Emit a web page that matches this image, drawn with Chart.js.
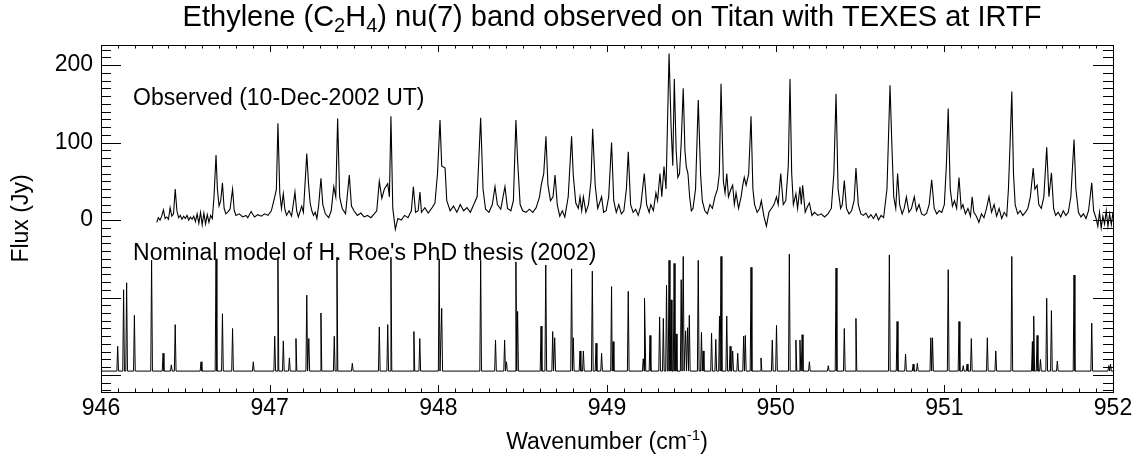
<!DOCTYPE html>
<html>
<head>
<meta charset="utf-8">
<script src="https://cdn.jsdelivr.net/npm/chart.js@4.4.1/dist/chart.umd.min.js"></script>
<style>
  html, body { margin: 0; padding: 0; background: #fff; }
</style>
</head>
<body>
<canvas id="spectrum" width="1138" height="476"></canvas>
<script>
// tick labels
const xTickLabels = [946, 947, 948, 949, 950, 951, 952];
const yTickLabels = [0, 100, 200];

// observed spectrum, [wavenumber (cm-1), flux (Jy)]
const observed = [
  [946.33,-3],[946.34,3],[946.35,0],[946.36,5],[946.37,13],[946.38,2],[946.39,4],[946.40,1],
  [946.41,16],[946.42,5],[946.43,8],[946.44,40],[946.45,12],[946.46,3],[946.47,6],[946.48,1],
  [946.49,5],[946.50,2],[946.51,6],[946.52,0],[946.53,4],[946.54,1],[946.55,5],[946.56,-2],
  [946.57,8],[946.58,-4],[946.59,10],[946.60,-6],[946.61,9],[946.62,-5],[946.63,7],[946.64,-3],
  [946.65,6],[946.66,2],[946.67,30],[946.682,84],[946.69,40],[946.70,18],[946.71,25],[946.72,48],
  [946.73,15],[946.74,8],[946.75,10],[946.765,14],[946.78,40],[946.79,12],[946.80,6],[946.82,8],
  [946.84,4],[946.86,6],[946.87,3],[946.89,11],[946.91,4],[946.93,7],[946.95,5],[946.97,8],
  [946.99,6],[947.01,12],[947.03,30],[947.04,40],[947.049,125],[947.06,35],[947.07,15],[947.081,34],
  [947.09,14],[947.10,6],[947.115,12],[947.13,5],[947.15,36],[947.16,12],[947.17,4],[947.19,18],
  [947.20,10],[947.22,86],[947.23,48],[947.24,22],[947.25,12],[947.26,6],[947.27,10],[947.28,2],
  [947.29,18],[947.304,54],[947.315,20],[947.33,8],[947.35,3],[947.365,12],[947.38,43],[947.392,30],
  [947.403,131],[947.415,30],[947.43,15],[947.45,8],[947.472,58],[947.485,18],[947.50,12],[947.52,6],
  [947.54,9],[947.56,4],[947.58,6],[947.60,3],[947.62,8],[947.635,12],[947.65,50],[947.665,28],
  [947.68,40],[947.70,47],[947.71,30],[947.719,134],[947.73,15],[947.745,-12],[947.76,2],[947.78,0],
  [947.80,6],[947.82,3],[947.84,12],[947.852,43],[947.865,10],[947.88,12],[947.891,36],[947.90,10],
  [947.92,16],[947.94,9],[947.96,15],[947.98,22],[947.995,60],[948.01,129],[948.02,70],[948.04,67],
  [948.05,25],[948.07,12],[948.09,18],[948.11,10],[948.13,20],[948.15,12],[948.17,16],[948.19,10],
  [948.21,20],[948.23,30],[948.251,132],[948.265,40],[948.28,14],[948.30,10],[948.32,20],[948.336,43],
  [948.35,20],[948.37,14],[948.395,43],[948.41,15],[948.43,12],[948.445,25],[948.46,129],[948.47,77],
  [948.485,20],[948.50,12],[948.52,10],[948.54,14],[948.56,10],[948.58,16],[948.60,30],[948.61,45],
  [948.625,60],[948.638,108],[948.65,45],[948.665,25],[948.68,30],[948.692,58],[948.705,20],[948.72,5],
  [948.735,12],[948.75,4],[948.77,30],[948.79,108],[948.80,58],[948.815,22],[948.83,15],[948.84,30],
  [948.85,12],[948.86,30],[948.875,10],[948.89,20],[948.905,50],[948.915,118],[948.93,45],[948.945,15],
  [948.968,30],[948.98,10],[948.995,12],[949.01,30],[949.027,100],[949.04,25],[949.055,10],[949.07,20],
  [949.085,8],[949.10,12],[949.115,40],[949.126,88],[949.14,20],[949.155,10],[949.17,14],[949.185,6],
  [949.20,18],[949.221,60],[949.235,20],[949.25,10],[949.26,20],[949.275,12],[949.29,35],[949.30,25],
  [949.314,60],[949.325,30],[949.338,69],[949.35,40],[949.368,215],[949.38,120],[949.39,70],[949.399,182],
  [949.41,90],[949.42,55],[949.43,60],[949.44,100],[949.452,170],[949.462,90],[949.47,69],[949.48,60],
  [949.49,30],[949.50,12],[949.51,15],[949.525,40],[949.541,155],[949.555,58],[949.565,25],[949.58,12],
  [949.595,8],[949.61,20],[949.625,15],[949.64,30],[949.655,40],[949.666,60],[949.676,176],[949.69,50],
  [949.70,35],[949.71,60],[949.72,30],[949.735,40],[949.745,45],[949.755,20],[949.765,35],[949.78,15],
  [949.795,30],[949.805,45],[949.814,55],[949.825,45],[949.84,60],[949.854,134],[949.865,40],[949.875,20],
  [949.89,10],[949.905,15],[949.915,25],[949.93,5],[949.945,-8],[949.96,10],[949.975,15],[949.99,20],
  [950.005,30],[950.015,20],[950.03,60],[950.045,20],[950.06,25],[950.075,70],[950.085,182],[950.095,60],
  [950.105,20],[950.12,34],[950.13,15],[950.144,43],[950.152,20],[950.16,45],[950.175,10],[950.19,18],
  [950.20,22],[950.215,6],[950.23,10],[950.25,6],[950.27,8],[950.29,4],[950.31,8],[950.33,15],
  [950.345,60],[950.358,163],[950.37,40],[950.385,15],[950.395,20],[950.407,51],[950.42,15],[950.435,8],
  [950.45,12],[950.465,25],[950.476,67],[950.49,20],[950.505,8],[950.52,6],[950.535,9],[950.55,3],
  [950.565,7],[950.58,2],[950.595,8],[950.61,0],[950.625,6],[950.64,3],[950.66,40],[950.678,174],
  [950.69,90],[950.70,30],[950.712,15],[950.723,60],[950.735,20],[950.75,8],[950.762,15],[950.775,30],
  [950.79,10],[950.805,15],[950.822,30],[950.835,12],[950.85,20],[950.865,8],[950.88,6],[950.895,9],
  [950.91,20],[950.925,52],[950.94,15],[950.955,8],[950.97,12],[950.985,10],[951.00,20],[951.012,70],
  [951.023,144],[951.035,40],[951.048,18],[951.06,25],[951.073,15],[951.087,55],[951.10,15],[951.11,20],
  [951.125,8],[951.14,15],[951.155,5],[951.165,30],[951.175,10],[951.19,5],[951.205,-3],[951.22,8],
  [951.235,3],[951.25,15],[951.265,30],[951.28,10],[951.295,20],[951.31,5],[951.325,15],[951.34,2],
  [951.355,10],[951.37,5],[951.38,40],[951.39,100],[951.40,166],[951.41,60],[951.42,20],[951.435,8],
  [951.45,12],[951.465,6],[951.48,10],[951.495,15],[951.51,30],[951.527,67],[951.537,40],[951.55,45],
  [951.56,20],[951.575,15],[951.59,30],[951.607,94],[951.62,30],[951.635,61],[951.648,15],[951.66,6],
  [951.675,10],[951.69,4],[951.705,12],[951.72,6],[951.735,10],[951.75,30],[951.769,104],[951.78,40],
  [951.795,10],[951.81,4],[951.825,8],[951.84,2],[951.855,12],[951.874,48],[951.885,12],[951.90,2],
  [951.91,-8],[951.92,10],[951.93,-10],[951.94,5],[951.95,-5],[951.96,12],[951.97,-8],[951.98,8],
  [951.99,-6],[952.00,10]
];

// model: line centres and peak flux (already offset below the observed trace)
const modelLines = [
  [946.099,-163],[946.134,-90],[946.152,-81],[946.198,-123],[946.300,-52],[946.368,-172],[946.417,-187],
  [946.440,-135],[946.593,-183],[946.682,-50],[946.720,-121],[946.780,-140],[946.903,-183],[947.030,-150],
  [947.049,-50],[947.081,-156],[947.117,-178],[947.156,-153],[947.220,-97],[947.232,-153],[947.304,-120],
  [947.383,-150],[947.399,-48],[947.490,-185],[947.650,-138],[947.700,-135],[947.719,-48],[947.855,-144],
  [947.890,-153],[948.005,-50],[948.020,-114],[948.251,-52],[948.339,-155],[948.393,-155],[948.404,-183],
  [948.460,-54],[948.470,-118],[948.609,-137],[948.637,-58],[948.678,-144],[948.690,-152],[948.790,-63],
  [948.800,-152],[948.840,-169],[948.860,-169],[948.913,-66],[948.935,-159],[948.968,-172],[949.027,-86],
  [949.036,-157],[949.126,-92],[949.215,-179],[949.225,-101],[949.255,-149],[949.312,-125],[949.334,-127],
  [949.353,-84],[949.368,-52],[949.380,-103],[949.398,-56],[949.410,-147],[949.440,-77],[949.452,-47],
  [949.466,-143],[949.478,-139],[949.488,-123],[949.541,-52],[949.560,-145],[949.570,-169],[949.620,-146],
  [949.645,-154],[949.667,-124],[949.676,-47],[949.710,-124],[949.730,-163],[949.745,-169],[949.775,-172],
  [949.810,-150],[949.820,-149],[949.854,-61],[949.913,-178],[949.980,-155],[950.005,-136],[950.081,-44],
  [950.120,-155],[950.144,-155],[950.157,-148],[950.200,-183],[950.312,-188],[950.358,-62],[950.407,-140],
  [950.476,-127],[950.674,-45],[950.720,-131],[950.770,-173],[950.815,-186],[950.840,-185],[950.920,-152],
  [950.930,-152],[951.023,-64],[951.087,-131],[951.112,-188],[951.135,-186],[951.160,-153],[951.255,-152],
  [951.305,-169],[951.400,-47],[951.522,-157],[951.530,-124],[951.550,-149],[951.570,-180],[951.607,-101],
  [951.635,-117],[951.670,-182],[951.769,-71],[951.874,-133],[951.975,-188],[951.985,-186]
];
const modelBaseline = -195;

const observedPoints = observed.map(([x, y]) => ({ x, y }));

const modelPoints = [{ x: 946, y: modelBaseline }];
modelLines.forEach(([wn, flux]) => {
  modelPoints.push({ x: wn - 0.005, y: modelBaseline }, { x: wn, y: flux }, { x: wn + 0.005, y: modelBaseline });
});
modelPoints.push({ x: 952, y: modelBaseline });
modelPoints.sort((a, b) => a.x - b.x);

const FONT = "'Liberation Sans', Arial, Helvetica, sans-serif";
Chart.defaults.font.family = FONT;
Chart.defaults.color = '#000';

// draws a line of text made of pieces with their own size and vertical shift
function drawPieces(ctx, pieces, cx, baseY) {
  let total = 0;
  pieces.forEach(p => {
    ctx.font = p.size + 'px ' + FONT;
    p.w = ctx.measureText(p.t).width;
    total += p.w;
  });
  let x = cx - total / 2;
  pieces.forEach(p => {
    ctx.font = p.size + 'px ' + FONT;
    ctx.fillText(p.t, x, baseY + (p.dy || 0));
    x += p.w;
  });
}

const framePlugin = {
  id: 'frame',
  afterDraw(chart) {
    const { ctx, chartArea: a, scales: { x, y } } = chart;
    ctx.save();
    ctx.strokeStyle = '#000';
    ctx.lineWidth = 1;
    ctx.strokeRect(a.left + 0.5, a.top + 0.5, a.width, a.height);

    ctx.beginPath();
    // x ticks, every 0.1 cm-1, pointing inwards
    for (let i = 0; i <= 60; i++) {
      const px = Math.round(x.getPixelForValue(946 + i / 10)) + 0.5;
      const len = i % 10 === 0 ? 7 : 3.5;
      ctx.moveTo(px, a.bottom); ctx.lineTo(px, a.bottom - len);
      ctx.moveTo(px, a.top); ctx.lineTo(px, a.top + len);
    }
    // y ticks, every 10 Jy
    for (let v = -220; v <= 220; v += 10) {
      const py = Math.round(y.getPixelForValue(v)) + 0.5;
      const len = v % 100 === 0 ? 20 : 10;
      ctx.moveTo(a.left, py); ctx.lineTo(a.left + len, py);
      ctx.moveTo(a.right, py); ctx.lineTo(a.right - len, py);
    }
    ctx.stroke();

    ctx.fillStyle = '#000';
    ctx.textBaseline = 'alphabetic';
    ctx.textAlign = 'left';
    const cx = (a.left + a.right) / 2;

    drawPieces(ctx, [
      { t: 'Ethylene (C', size: 29 },
      { t: '2', size: 20, dy: 6 },
      { t: 'H', size: 29 },
      { t: '4', size: 20, dy: 6 },
      { t: ') nu(7) band observed on Titan with TEXES at IRTF', size: 29 }
    ], cx + 5, 26);

    drawPieces(ctx, [
      { t: 'Wavenumber (cm', size: 23 },
      { t: '-1', size: 15, dy: -9 },
      { t: ')', size: 23 }
    ], cx, 449);

    ctx.font = '23px ' + FONT;
    const lx = x.getPixelForValue(946.19);
    ctx.fillText('Observed (10-Dec-2002 UT)', lx, y.getPixelForValue(148));
    ctx.fillText("Nominal model of H. Roe's PhD thesis (2002)", lx, y.getPixelForValue(-52));
    ctx.restore();
  }
};

new Chart(document.getElementById('spectrum'), {
  type: 'scatter',
  data: {
    datasets: [
      {
        label: 'Observed (10-Dec-2002 UT)',
        data: observedPoints,
        showLine: true,
        borderColor: '#000',
        borderWidth: 1.1,
        pointRadius: 0,
        tension: 0
      },
      {
        label: "Nominal model of H. Roe's PhD thesis (2002)",
        data: modelPoints,
        showLine: true,
        borderColor: '#000',
        borderWidth: 1,
        pointRadius: 0,
        tension: 0
      }
    ]
  },
  options: {
    responsive: false,
    animation: false,
    devicePixelRatio: 1,
    layout: { padding: { left: 0, right: 25, top: 45, bottom: 0 } },
    plugins: { legend: { display: false }, tooltip: { enabled: false } },
    scales: {
      x: {
        type: 'linear',
        min: 946,
        max: 952,
        grid: { display: false, drawTicks: false },
        border: { display: false },
        afterBuildTicks: s => { s.ticks = xTickLabels.map(v => ({ value: v })); },
        afterFit: s => { s.height = 84; },
        ticks: { font: { size: 23 }, padding: 3, maxRotation: 0, autoSkip: false, callback: v => v }
      },
      y: {
        min: -222,
        max: 226,
        grid: { display: false, drawTicks: false },
        border: { display: false },
        afterBuildTicks: s => { s.ticks = yTickLabels.map(v => ({ value: v })); },
        afterFit: s => { s.width = 101; },
        ticks: { font: { size: 23 }, padding: 8, callback: v => v },
        title: { display: true, text: 'Flux (Jy)', font: { size: 23 }, padding: { top: 8 } }
      }
    }
  },
  plugins: [framePlugin]
});
</script>
</body>
</html>
